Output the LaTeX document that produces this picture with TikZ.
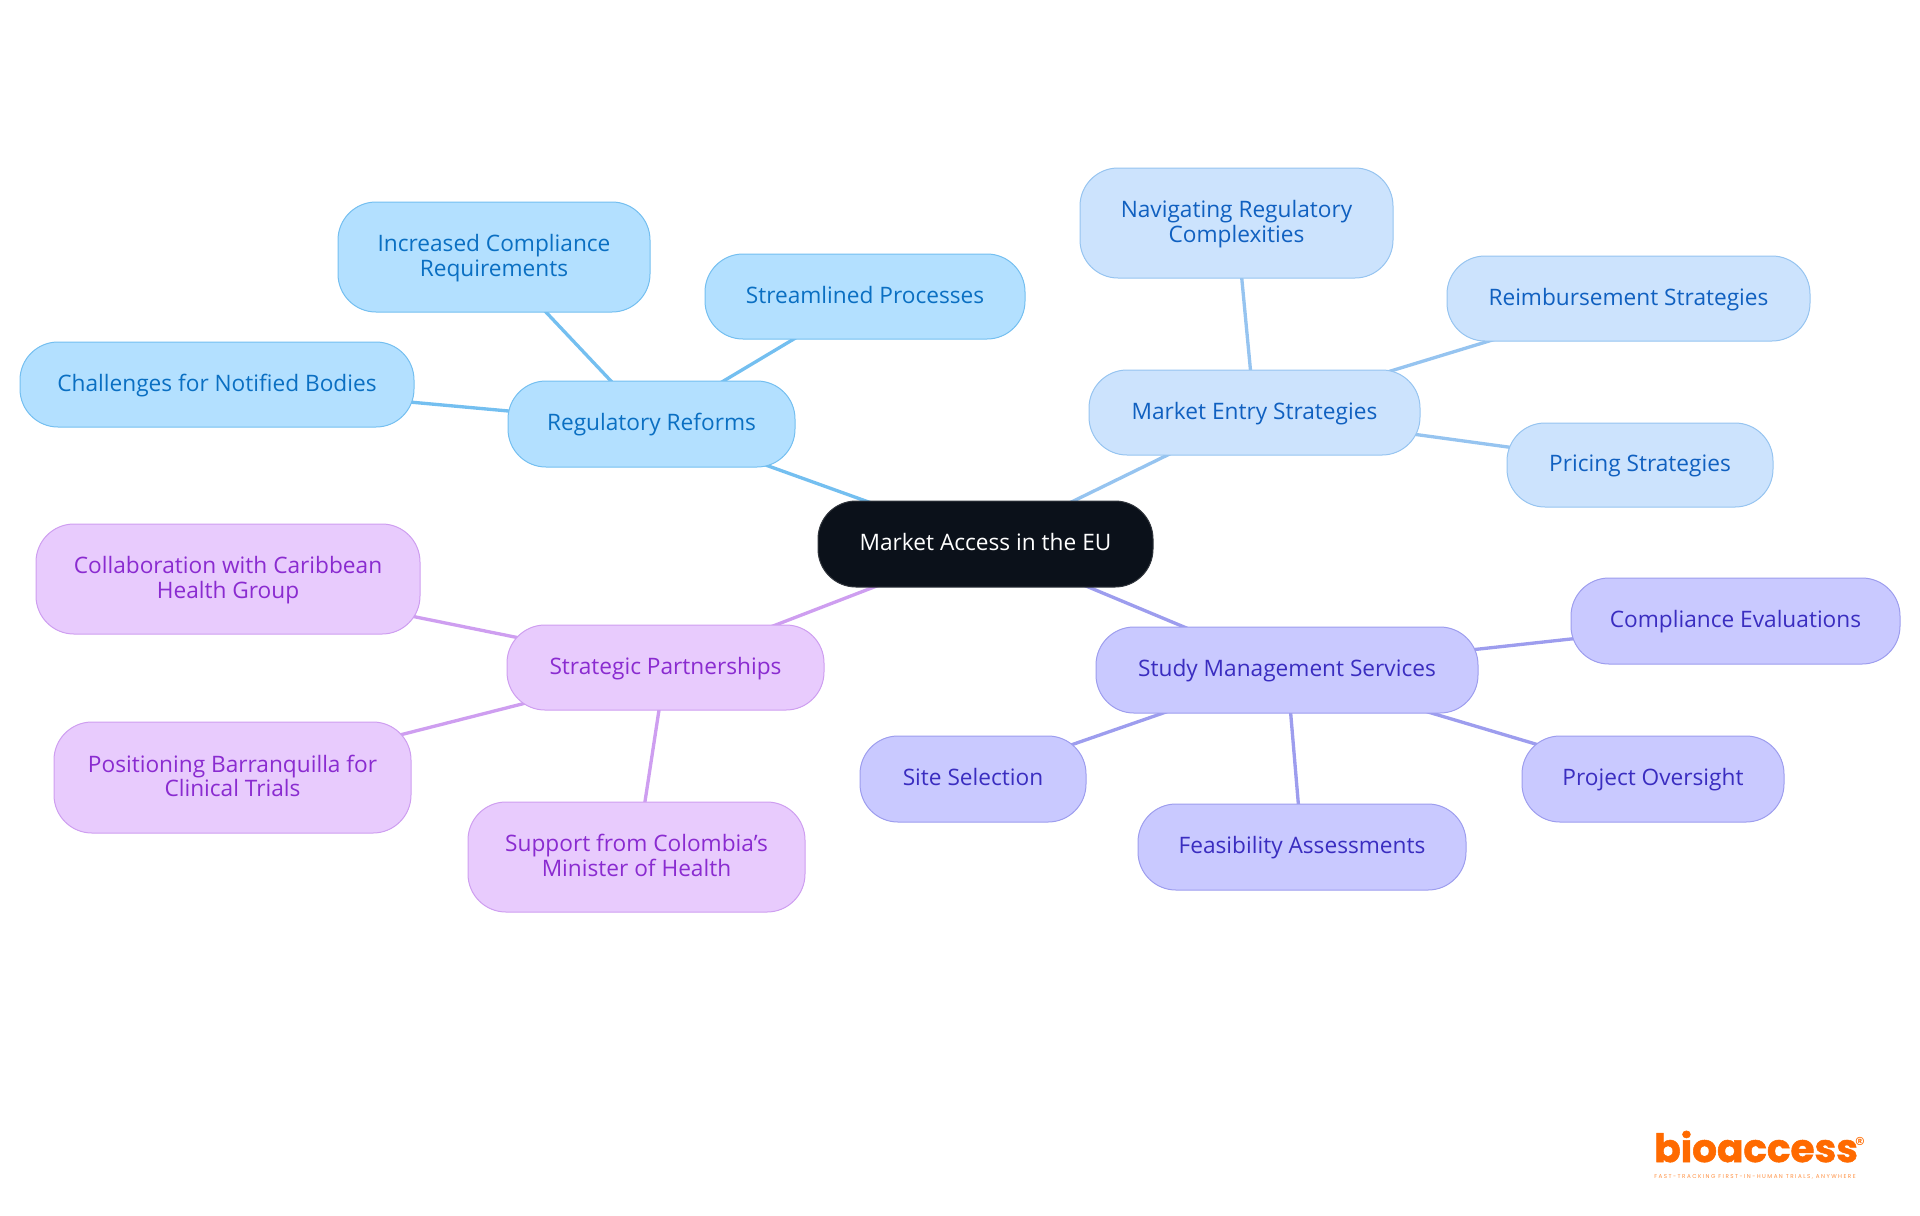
\documentclass[tikz,border=0pt]{standalone}
\usepackage{fontspec}
\setmainfont{Open Sans}
\newfontfamily\logofont[BoldFeatures={FakeBold=1.4}]{Poppins}
\newfontfamily\tagfont[LetterSpace=26]{Poppins}
\usetikzlibrary{backgrounds}
\definecolor{rootfill}{HTML}{0B111A}
\definecolor{regfill}{HTML}{B3E0FF}\definecolor{regline}{HTML}{74BFF0}\definecolor{regtext}{HTML}{0A6FC2}
\definecolor{entfill}{HTML}{CCE3FD}\definecolor{entline}{HTML}{96C4F0}\definecolor{enttext}{HTML}{1060C0}
\definecolor{stufill}{HTML}{C9C9FF}\definecolor{stuline}{HTML}{9D9DEE}\definecolor{stutext}{HTML}{3A2DC0}
\definecolor{strfill}{HTML}{E8CBFD}\definecolor{strline}{HTML}{CE9EF0}\definecolor{strtext}{HTML}{8A2BD0}
\definecolor{logoorange}{HTML}{FF6A00}
\tikzset{
  x=0.75pt,y=-0.75pt,
  mapnode/.style={rounded corners=28.5pt,line width=0.75pt,align=center,inner sep=0pt,
    font=\fontsize{17pt}{18.4pt}\selectfont},
  rootnode/.style={mapnode,fill=rootfill,draw=rootfill!85!white,text=white},
  regnode/.style={mapnode,fill=regfill,draw=regline,text=regtext},
  entnode/.style={mapnode,fill=entfill,draw=entline,text=enttext},
  stunode/.style={mapnode,fill=stufill,draw=stuline,text=stutext},
  strnode/.style={mapnode,fill=strfill,draw=strline,text=strtext},
  link/.style={line width=2.5pt},
}
% \mapbox{style}{name}{x1}{y1}{x2}{y2}{text}
\newcommand{\mapbox}[7]{%
  \pgfmathsetmacro{\mbw}{(#5-#3)*0.75}%
  \pgfmathsetmacro{\mbh}{(#6-#4)*0.75}%
  \pgfmathsetmacro{\mbx}{(#3+#5)/2}%
  \pgfmathsetmacro{\mby}{(#4+#6)/2}%
  \node[#1,minimum width=\mbw pt,minimum height=\mbh pt] (#2) at (\mbx,\mby)
    {\rule{0pt}{14.4pt}#7\rule[-4.4pt]{0pt}{4.4pt}};}
\newcommand{\toppad}{\rule{0pt}{15pt}}
\begin{document}
\begin{tikzpicture}
\useasboundingbox (0,0) rectangle (1920,1215);
\mapbox{rootnode}{root}{818}{501}{1153}{587}{Market Access in the EU}
\mapbox{regnode}{reg}{508}{381}{795}{467}{Regulatory Reforms}
\mapbox{regnode}{inc}{338}{202}{650}{312}{\toppad Increased Compliance\\Requirements}
\mapbox{regnode}{stl}{705}{254}{1025}{339}{Streamlined Processes}
\mapbox{regnode}{cha}{20}{342}{414}{427}{Challenges for Notified Bodies}
\mapbox{entnode}{ent}{1089}{370}{1420}{455}{Market Entry Strategies}
\mapbox{entnode}{nav}{1080}{168}{1393}{278}{\toppad Navigating Regulatory\\Complexities}
\mapbox{entnode}{rei}{1447}{256}{1810}{341}{Reimbursement Strategies}
\mapbox{entnode}{pri}{1507}{423}{1773}{507}{Pricing Strategies}
\mapbox{strnode}{str}{507}{625}{824}{710}{Strategic Partnerships}
\mapbox{strnode}{col}{36}{524}{420}{634}{\toppad Collaboration with Caribbean\\Health Group}
\mapbox{strnode}{pos}{54}{722}{411}{833}{\toppad Positioning Barranquilla for\\Clinical Trials}
\mapbox{strnode}{sup}{468}{802}{805}{912}{\toppad Support from Colombia's\\Minister of Health}
\mapbox{stunode}{stu}{1096}{627}{1478}{713}{Study Management Services}
\mapbox{stunode}{com}{1571}{578}{1900}{664}{Compliance Evaluations}
\mapbox{stunode}{sit}{860}{736}{1086}{822}{Site Selection}
\mapbox{stunode}{fea}{1138}{804}{1466}{890}{Feasibility Assessments}
\mapbox{stunode}{prj}{1522}{736}{1784}{822}{Project Oversight}
\begin{scope}[on background layer]
\draw[link,regline] (root.center) -- (reg.center);
\draw[link,regline] (reg.center) -- (inc.center);
\draw[link,regline] (reg.center) -- (stl.center);
\draw[link,regline] (reg.center) -- (cha.center);
\draw[link,entline] (root.center) -- (ent.center);
\draw[link,entline] (ent.center) -- (nav.center);
\draw[link,entline] (ent.center) -- (rei.center);
\draw[link,entline] (ent.center) -- (pri.center);
\draw[link,strline] (root.center) -- (str.center);
\draw[link,strline] (str.center) -- (col.center);
\draw[link,strline] (str.center) -- (pos.center);
\draw[link,strline] (str.center) -- (sup.center);
\draw[link,stuline] (root.center) -- (stu.center);
\draw[link,stuline] (stu.center) -- (com.center);
\draw[link,stuline] (stu.center) -- (sit.center);
\draw[link,stuline] (stu.center) -- (fea.center);
\draw[link,stuline] (stu.center) -- (prj.center);
\end{scope}
\node[anchor=base west,inner sep=0pt,text=logoorange,font=\logofont\bfseries\fontsize{29.2pt}{30pt}\selectfont] (logo) at (1654,1162) {bioaccess};
\node[anchor=center,inner sep=0pt,text=logoorange,font=\logofont\fontsize{15pt}{15pt}\selectfont] (regmark) at (1860,1144) {®};
\node[anchor=center,inner sep=0pt,text=logoorange!75!white,font=\tagfont\fontsize{4.2pt}{5pt}\selectfont] (tag) at (1755,1177) {FAST-TRACKING FIRST-IN-HUMAN TRIALS, ANYWHERE};
\end{tikzpicture}
\end{document}
